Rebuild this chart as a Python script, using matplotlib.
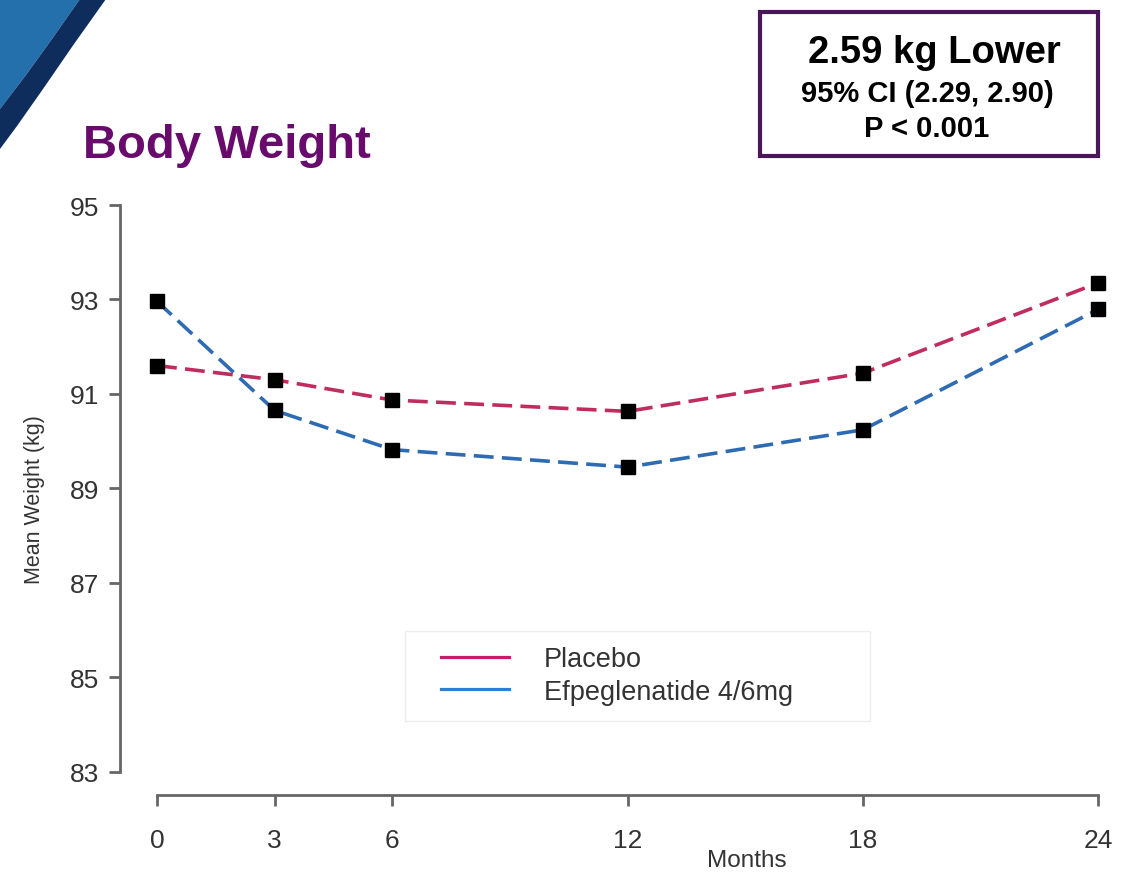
import matplotlib
matplotlib.use("Agg")
import matplotlib.pyplot as plt
from matplotlib.lines import Line2D
from matplotlib.patches import Polygon, Rectangle

plt.rcParams['font.family'] = ['Liberation Sans', 'DejaVu Sans']

months = [0, 3, 6, 12, 18, 24]
placebo = [91.60, 91.30, 90.87, 90.63, 91.44, 93.35]
efpeg = [92.96, 90.65, 89.82, 89.45, 90.24, 92.79]
yticks = [83, 85, 87, 89, 91, 93, 95]

series_names = ['Placebo', 'Efpeglenatide 4/6mg']
line_colors = ['#C02C5E', '#2E6BB3']
legend_colors = ['#C81B6A', '#2F7ED0']

W, H = 1128, 879
fig = plt.figure(figsize=(W / 100, H / 100), dpi=100)
fig.patch.set_facecolor('white')


def fx(px):
    return px / W


def fy(py):
    return 1 - py / H


# blue swoosh in the top-left corner
light = [(0, 0), (80, 0), (52, 40), (26, 76), (0, 110)]
navy = [(80, 0), (106, 0), (74, 45), (43, 90), (17, 127), (0, 150), (0, 110), (26, 76), (52, 40)]
fig.patches.append(Polygon([(fx(a), fy(b)) for a, b in light], closed=True, zorder=-1,
                           transform=fig.transFigure, facecolor='#2470AD', edgecolor='none'))
fig.patches.append(Polygon([(fx(a), fy(b)) for a, b in navy], closed=True, zorder=-1,
                           transform=fig.transFigure, facecolor='#0E2D5C', edgecolor='none'))

# axes placed so that month 0 -> x=157px, 24 -> 1098px, 95 -> 206px, 83 -> 773px
ax = fig.add_axes([fx(120), fy(796), fx(1115) - fx(120), (796 - 190) / H])
ax.set_xlim(-0.944, 24.43)
ax.set_ylim(82.507, 95.339)
ax.patch.set_alpha(0)

for vals, c in zip([placebo, efpeg], line_colors):
    ax.plot(months, vals, color=c, lw=2.6, dashes=(5.5, 2.3), zorder=2)
    ax.plot(months, vals, ls='none', marker='s', ms=10.5, color='black', zorder=3)

ax.spines['top'].set_visible(False)
ax.spines['right'].set_visible(False)
for s in ['left', 'bottom']:
    ax.spines[s].set_color('#666666')
    ax.spines[s].set_linewidth(2.0)
ax.spines['left'].set_bounds(83, 95)
ax.spines['bottom'].set_bounds(0, 24)

ax.set_xticks(months)
ax.set_yticks(yticks)
ax.tick_params(axis='both', direction='out', length=8, width=2, color='#666666',
               labelsize=19, labelcolor='#333333')
ax.tick_params(axis='x', pad=16)
ax.tick_params(axis='y', pad=7)

fig.text(fx(35), fy(500), 'Mean Weight (kg)', rotation=90, ha='center', va='center',
         fontsize=15.5, color='#333333')
fig.text(fx(747), fy(861), 'Months', ha='center', va='center', fontsize=17.5, color='#333333')

fig.text(fx(83), fy(158), 'Body Weight', ha='left', va='baseline', fontsize=34,
         fontweight='bold', color='#690B6C')

# result box
fig.patches.append(Rectangle((fx(760), fy(157)), fx(1098) - fx(760), (157 - 13) / H,
                             transform=fig.transFigure, facecolor='white',
                             edgecolor='#4B1659', lw=3))
fig.text(fx(934), fy(63), '2.59 kg Lower', ha='center', va='baseline', fontsize=27.5,
         fontweight='bold', color='black')
fig.text(fx(927), fy(102), '95% CI (2.29, 2.90)', ha='center', va='baseline', fontsize=21,
         fontweight='bold', color='black')
fig.text(fx(927), fy(137), 'P < 0.001', ha='center', va='baseline', fontsize=21,
         fontweight='bold', color='black')

# legend
fig.patches.append(Rectangle((fx(405), fy(722)), fx(870) - fx(405), (722 - 632) / H,
                             transform=fig.transFigure, facecolor='white', zorder=-1,
                             edgecolor='#EEEEEE', lw=1))
handles = [Line2D([], [], color=c, lw=2.3) for c in legend_colors]
leg = ax.legend(handles, series_names, loc='upper left', bbox_to_anchor=(fx(433), fy(639)),
                bbox_transform=fig.transFigure, frameon=False, fontsize=19.5,
                handlelength=2.5, handletextpad=1.3, labelspacing=0.24,
                borderaxespad=0, borderpad=0.3)
for t in leg.get_texts():
    t.set_color('#333333')

fig.savefig('out.png', dpi=100)
